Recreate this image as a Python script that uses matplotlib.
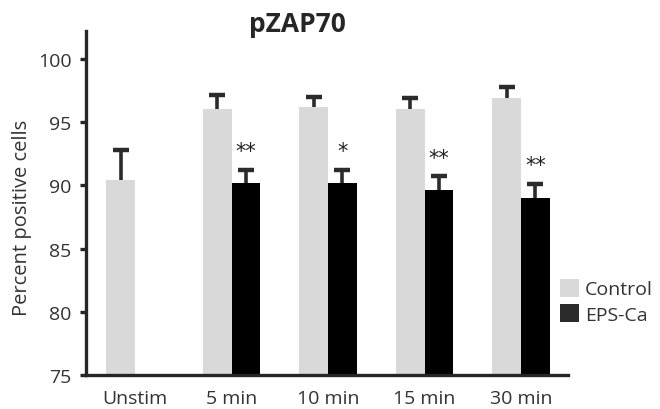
import numpy as np
import matplotlib
matplotlib.use('Agg')
import matplotlib.pyplot as plt
from matplotlib.patches import Patch

plt.rcParams['font.family'] = ['Open Sans', 'DejaVu Sans']

# Data: percent positive cells for pZAP70
groups = ['Unstim', '5 min', '10 min', '15 min', '30 min']
control = [90.4, 96.0, 96.2, 96.0, 96.9]
control_err = [2.4, 1.1, 0.8, 0.9, 0.9]
eps_ca = [90.2, 90.2, 89.6, 89.0]
eps_ca_err = [1.0, 1.0, 1.1, 1.1]
signif = ['**', '*', '**', '**']

text_col = '#333333'
fig = plt.figure(figsize=(6.6, 4.1), dpi=100)
ax = fig.add_axes([0.1303, 0.0829, 0.7303, 0.8391])

x = np.arange(len(groups))
w = 0.30
err_kw = dict(fmt='none', ecolor='#2b2b2b', elinewidth=2.6, capsize=6,
              capthick=3.2, zorder=1)

# bars sit on top of symmetric error bars so only the upper half shows
ax.bar(x - w / 2, control, w, color='#d9d9d9', zorder=2)
ax.bar(x[1:] + w / 2, eps_ca, w, color='#000000', zorder=2)
ax.errorbar(x - w / 2, control, yerr=control_err, **err_kw)
ax.errorbar(x[1:] + w / 2, eps_ca, yerr=eps_ca_err, **err_kw)

for xi, v, e, s in zip(x[1:] + w / 2, eps_ca, eps_ca_err, signif):
    ax.text(xi, v + e + 0.7, s, ha='center', va='bottom', fontsize=15,
            color='#222222', family='DejaVu Sans')

ax.set_ylim(75, 102.2)
ax.set_xlim(-0.508, 4.487)
ax.set_yticks([75, 80, 85, 90, 95, 100])
ax.set_xticks(x)
ax.set_xticklabels(groups)

for side in ['top', 'right']:
    ax.spines[side].set_visible(False)
for side in ['left', 'bottom']:
    ax.spines[side].set_linewidth(2.4)
    ax.spines[side].set_color('#262626')

ax.tick_params(axis='y', length=4.5, width=2.4, color='#262626',
               labelsize=14, labelcolor=text_col, pad=6)
ax.tick_params(axis='x', length=0, labelsize=14, labelcolor=text_col, pad=10)

ax.set_ylabel('Percent positive cells', fontsize=14.5, color=text_col)
ax.yaxis.set_label_coords(-0.112, 0.459)
fig.text(0.45, 0.94, 'pZAP70', fontsize=19, fontweight='bold',
         color='#262626', ha='center', va='center')

handles = [Patch(facecolor='#d9d9d9', label='Control'),
           Patch(facecolor='#2b2b2b', label='EPS-Ca')]
fig.legend(handles=handles, loc='upper left', bbox_to_anchor=(0.848, 0.318),
           frameon=False, fontsize=14, labelcolor=text_col,
           handlelength=1.0, handleheight=1.05, handletextpad=0.3,
           labelspacing=0.3, borderpad=0, borderaxespad=0)

fig.savefig('out.png', dpi=100)
